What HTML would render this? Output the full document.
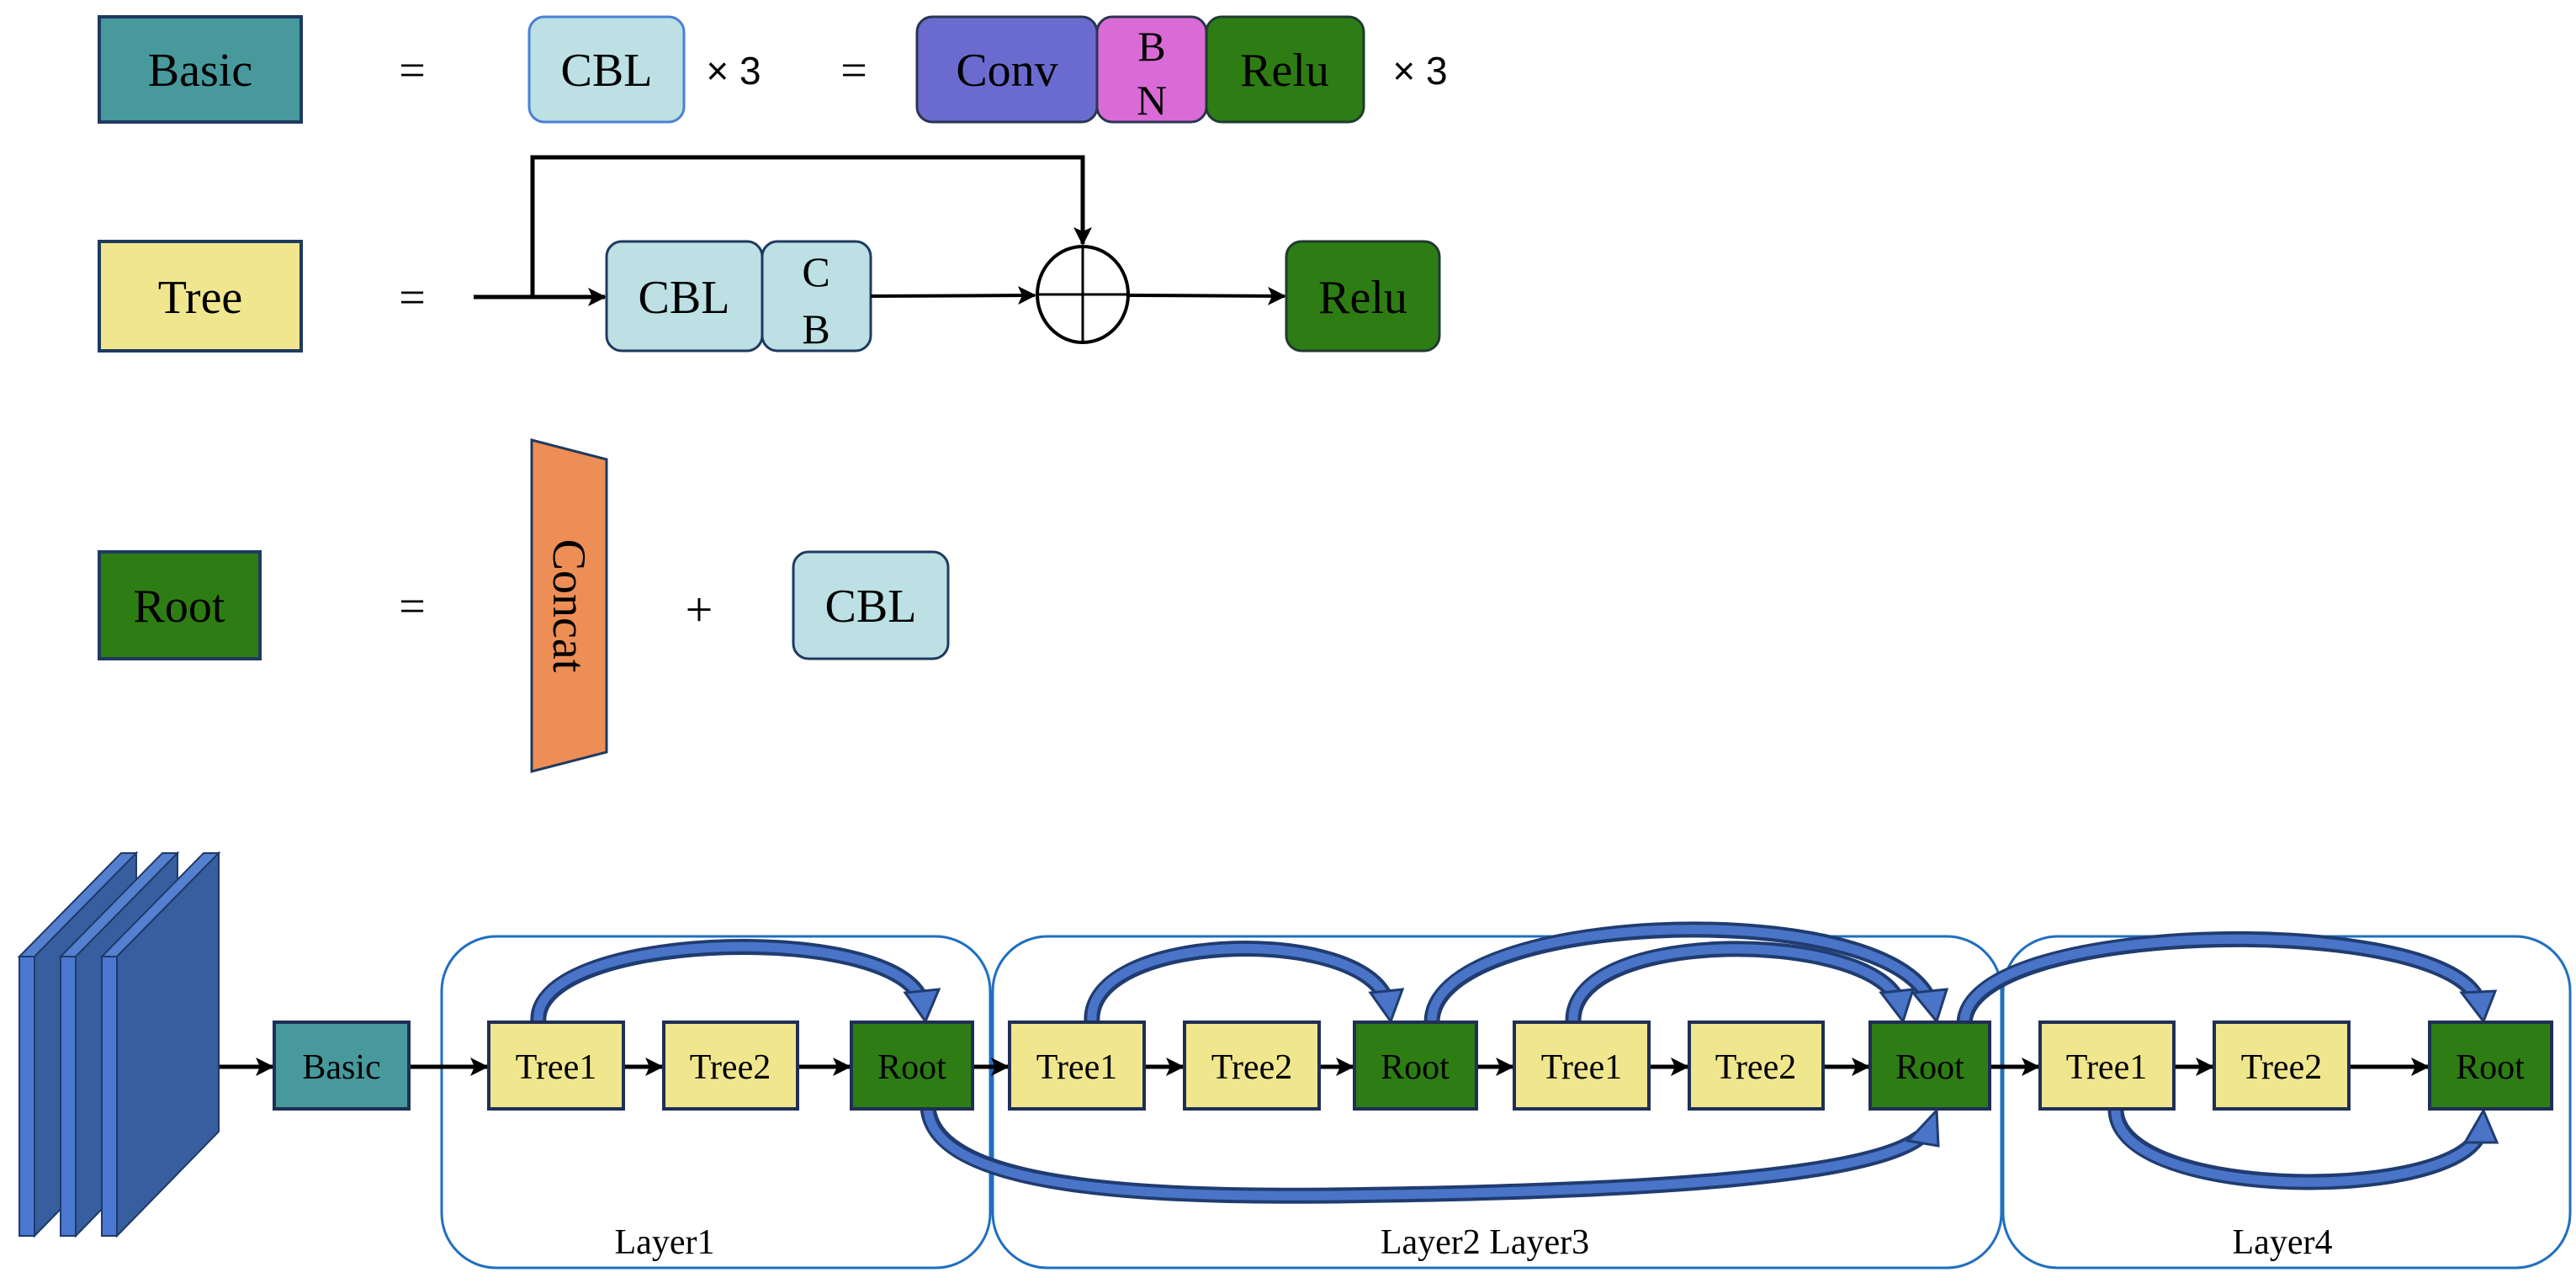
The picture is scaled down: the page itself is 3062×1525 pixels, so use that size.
<!DOCTYPE html>
<html><head><meta charset="utf-8"><style>
html,body{margin:0;padding:0;background:#fff;}
svg{display:block;}
text{font-family:"Liberation Serif",serif;fill:#000;}
.s{font-family:"Liberation Sans",sans-serif;}
</style></head><body>
<svg width="3062" height="1525" viewBox="0 0 3062 1525" xmlns="http://www.w3.org/2000/svg">
<defs>
<marker id="ab" markerWidth="22" markerHeight="22" refX="20" refY="11" orient="auto" markerUnits="userSpaceOnUse" viewBox="0 0 22 22">
<path d="M0,0 L22,11 L0,22 L5,11 z" fill="#000"/>
</marker>
</defs>

<rect x="118" y="20" width="240" height="125" fill="#48999c" stroke="#1f3a5f" stroke-width="4"/>
<text x="238" y="102" font-size="56" text-anchor="middle">Basic</text>
<text x="490" y="102" font-size="56" text-anchor="middle">=</text>
<rect x="629" y="20" width="184" height="125" rx="18" fill="#bce0e3" stroke="#4a80d4" stroke-width="3"/>
<text x="721" y="102" font-size="56" text-anchor="middle">CBL</text>
<text x="872" y="100" font-size="46" text-anchor="middle" class="s">× 3</text>
<text x="1015" y="102" font-size="56" text-anchor="middle">=</text>
<rect x="1090" y="20" width="214" height="125" rx="18" fill="#6b6bcf" stroke="#2a3550" stroke-width="3"/>
<text x="1197" y="102" font-size="56" text-anchor="middle">Conv</text>
<rect x="1304" y="20" width="130" height="125" rx="18" fill="#da6bd6" stroke="#2a3550" stroke-width="3"/>
<text x="1369" y="72" font-size="50" text-anchor="middle">B</text>
<text x="1369" y="136" font-size="50" text-anchor="middle">N</text>
<rect x="1434" y="20" width="187" height="125" rx="18" fill="#2e7d14" stroke="#1f3a30" stroke-width="3"/>
<text x="1527" y="102" font-size="56" text-anchor="middle">Relu</text>
<text x="1688" y="100" font-size="46" text-anchor="middle" class="s">× 3</text>

<rect x="118" y="287" width="240" height="130" fill="#f0e68d" stroke="#1f3a5f" stroke-width="4"/>
<text x="238" y="372" font-size="56" text-anchor="middle">Tree</text>
<text x="490" y="372" font-size="56" text-anchor="middle">=</text>
<line x1="563" y1="353" x2="719" y2="353" stroke="#000" stroke-width="5" marker-end="url(#ab)"/>
<polyline points="633,353 633,187 1287,187 1287,290" fill="none" stroke="#000" stroke-width="5" marker-end="url(#ab)"/>
<rect x="721" y="287" width="185" height="130" rx="18" fill="#bce0e3" stroke="#1f3a5f" stroke-width="3"/>
<text x="813" y="372" font-size="56" text-anchor="middle">CBL</text>
<rect x="906" y="287" width="129" height="130" rx="18" fill="#bce0e3" stroke="#1f3a5f" stroke-width="3"/>
<text x="970" y="340" font-size="50" text-anchor="middle">C</text>
<text x="970" y="408" font-size="50" text-anchor="middle">B</text>
<line x1="1035" y1="352" x2="1230" y2="351" stroke="#000" stroke-width="4" marker-end="url(#ab)"/>
<ellipse cx="1287" cy="350" rx="54" ry="57" fill="#fff" stroke="#000" stroke-width="4"/>
<line x1="1233" y1="350" x2="1341" y2="350" stroke="#000" stroke-width="3"/>
<line x1="1287" y1="293" x2="1287" y2="407" stroke="#000" stroke-width="3"/>
<line x1="1341" y1="351" x2="1527" y2="352" stroke="#000" stroke-width="4" marker-end="url(#ab)"/>
<rect x="1529" y="287" width="182" height="130" rx="18" fill="#2e7d14" stroke="#1f3a30" stroke-width="3"/>
<text x="1620" y="372" font-size="56" text-anchor="middle">Relu</text>

<rect x="118" y="656" width="191" height="127" fill="#2e7d14" stroke="#1f3a5f" stroke-width="4"/>
<text x="213" y="739" font-size="56" text-anchor="middle">Root</text>
<text x="490" y="739" font-size="56" text-anchor="middle">=</text>
<polygon points="632,523 721,546 721,894 632,917" fill="#ec8e55" stroke="#1f3a5f" stroke-width="3"/>
<text transform="translate(658,720) rotate(90)" font-size="56" text-anchor="middle">Concat</text>
<text x="831" y="744" font-size="58" text-anchor="middle">+</text>
<rect x="943" y="656" width="184" height="127" rx="18" fill="#bce0e3" stroke="#1f3a5f" stroke-width="3"/>
<text x="1035" y="739" font-size="56" text-anchor="middle">CBL</text>

<g stroke="#1f3a6a" stroke-width="2">
<polygon points="23,1137 144,1014 162,1014 41,1137" fill="#5580d0"/>
<polygon points="23,1137 41,1137 41,1469 23,1469" fill="#4a78d0"/>
<polygon points="41,1137 162,1014 162,1345 41,1469" fill="#375e9e"/>
<polygon points="72,1137 193,1014 211,1014 90,1137" fill="#5580d0"/>
<polygon points="72,1137 90,1137 90,1469 72,1469" fill="#4a78d0"/>
<polygon points="90,1137 211,1014 211,1345 90,1469" fill="#375e9e"/>
<polygon points="121,1137 242,1014 260,1014 139,1137" fill="#5580d0"/>
<polygon points="121,1137 139,1137 139,1469 121,1469" fill="#4a78d0"/>
<polygon points="139,1137 260,1014 260,1345 139,1469" fill="#375e9e"/>
</g>

<g fill="none" stroke="#1f6fc0" stroke-width="3">
<rect x="525" y="1113" width="652" height="394" rx="65"/>
<rect x="1180" y="1113" width="1199" height="394" rx="65"/>
<rect x="2381" y="1113" width="674" height="394" rx="65"/>
</g>
<text x="790" y="1490" font-size="42" text-anchor="middle">Layer1</text>
<text x="1765" y="1490" font-size="42" text-anchor="middle">Layer2 Layer3</text>
<text x="2713" y="1490" font-size="42" text-anchor="middle">Layer4</text>

<g stroke="#000" stroke-width="5" marker-end="url(#ab)">
<line x1="261" y1="1268" x2="324" y2="1268"/>
<line x1="486" y1="1268" x2="579" y2="1268"/>
<line x1="741" y1="1268" x2="787" y2="1268"/>
<line x1="948" y1="1268" x2="1010" y2="1268"/>
<line x1="1156" y1="1268" x2="1198" y2="1268"/>
<line x1="1360" y1="1268" x2="1406" y2="1268"/>
<line x1="1568" y1="1268" x2="1608" y2="1268"/>
<line x1="1755" y1="1268" x2="1798" y2="1268"/>
<line x1="1960" y1="1268" x2="2006" y2="1268"/>
<line x1="2167" y1="1268" x2="2221" y2="1268"/>
<line x1="2365" y1="1268" x2="2423" y2="1268"/>
<line x1="2584" y1="1268" x2="2630" y2="1268"/>
<line x1="2792" y1="1268" x2="2886" y2="1268"/>
</g>

<g fill="none" stroke="#203c70" stroke-width="19">
<path d="M640,1216 C630,1110 1040,1095 1092,1182"/>
<path d="M1298,1216 C1290,1110 1600,1100 1645,1182"/>
<path d="M1702,1216 C1700,1085 2220,1065 2290,1182"/>
<path d="M1870,1216 C1865,1105 2200,1105 2252,1182"/>
<path d="M2335,1216 C2340,1095 2880,1085 2942,1182"/>
<path d="M1103,1316 C1110,1420 1400,1425 1650,1420 C1950,1415 2220,1400 2282,1352"/>
<path d="M2515,1316 C2510,1425 2900,1430 2945,1352"/>
</g>
<g fill="none" stroke="#4a74c8" stroke-width="11">
<path d="M640,1214 C630,1110 1040,1095 1092,1182"/>
<path d="M1298,1214 C1290,1110 1600,1100 1645,1182"/>
<path d="M1702,1214 C1700,1085 2220,1065 2290,1182"/>
<path d="M1870,1214 C1865,1105 2200,1105 2252,1182"/>
<path d="M2335,1214 C2340,1095 2880,1085 2942,1182"/>
<path d="M1103,1318 C1110,1420 1400,1425 1650,1420 C1950,1415 2220,1400 2282,1352"/>
<path d="M2515,1318 C2510,1425 2900,1430 2945,1352"/>
</g>
<g fill="#4a74c8" stroke="#203c70" stroke-width="3">
<polygon points="1076,1180 1116,1176 1100,1214"/>
<polygon points="1629,1180 1667,1176 1653,1214"/>
<polygon points="2274,1180 2314,1176 2302,1214"/>
<polygon points="2236,1180 2274,1176 2262,1214"/>
<polygon points="2926,1180 2966,1178 2952,1214"/>
<polygon points="2268,1356 2304,1362 2302,1320"/>
<polygon points="2930,1358 2968,1358 2952,1320"/>
</g>

<g stroke="#1f2f55" stroke-width="4">
<rect x="326" y="1215" width="160" height="103" fill="#48999c"/>
<rect x="581" y="1215" width="160" height="103" fill="#f0e68d"/>
<rect x="789" y="1215" width="159" height="103" fill="#f0e68d"/>
<rect x="1012" y="1215" width="144" height="103" fill="#2e7d14"/>
<rect x="1200" y="1215" width="160" height="103" fill="#f0e68d"/>
<rect x="1408" y="1215" width="160" height="103" fill="#f0e68d"/>
<rect x="1610" y="1215" width="145" height="103" fill="#2e7d14"/>
<rect x="1800" y="1215" width="160" height="103" fill="#f0e68d"/>
<rect x="2008" y="1215" width="159" height="103" fill="#f0e68d"/>
<rect x="2223" y="1215" width="142" height="103" fill="#2e7d14"/>
<rect x="2425" y="1215" width="159" height="103" fill="#f0e68d"/>
<rect x="2632" y="1215" width="160" height="103" fill="#f0e68d"/>
<rect x="2888" y="1215" width="145" height="103" fill="#2e7d14"/>
</g>
<g font-size="42" text-anchor="middle">
<text x="406" y="1282">Basic</text>
<text x="661" y="1282">Tree1</text>
<text x="868" y="1282">Tree2</text>
<text x="1084" y="1282">Root</text>
<text x="1280" y="1282">Tree1</text>
<text x="1488" y="1282">Tree2</text>
<text x="1682" y="1282">Root</text>
<text x="1880" y="1282">Tree1</text>
<text x="2087" y="1282">Tree2</text>
<text x="2294" y="1282">Root</text>
<text x="2504" y="1282">Tree1</text>
<text x="2712" y="1282">Tree2</text>
<text x="2960" y="1282">Root</text>
</g>
</svg>
</body></html>
